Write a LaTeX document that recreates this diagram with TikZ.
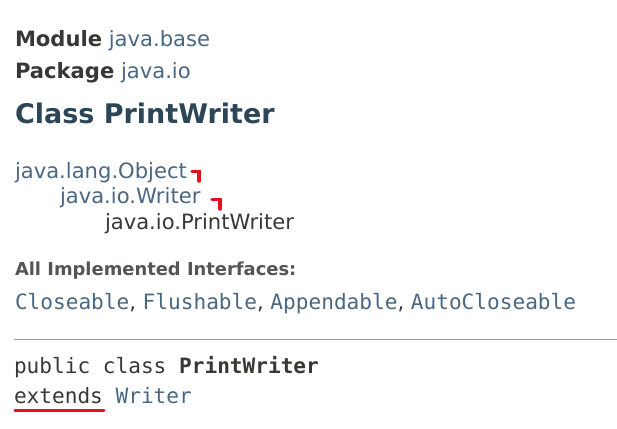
\documentclass[tikz,border=0pt]{standalone}
\usepackage{fontspec}
\setmainfont{DejaVu Sans}
\setmonofont{DejaVu Sans Mono}
\definecolor{txt}{HTML}{353833}
\definecolor{lnk}{HTML}{4A6782}
\definecolor{hdr}{HTML}{2C4557}
\definecolor{mark}{HTML}{E8101E}
\definecolor{rule}{HTML}{9A9A9A}
\tikzset{
  t/.style={anchor=base west, inner sep=0pt, outer sep=0pt, text=txt, font=\fontsize{21.1}{25}\selectfont},
  lk/.style={t, text=lnk},
  mono/.style={t, font=\fontsize{21.1}{25}\selectfont\ttfamily},
  redmark/.style={draw=mark, line width=3.5pt, line cap=round},
}
\begin{document}
\begin{tikzpicture}[x=1pt,y=-1pt]
\useasboundingbox (0,0) rectangle (617,428);
\node[t] (mod) at (15,47) {\textbf{Module} \textcolor{lnk}{java.base}};
\node[t] (pkg) at (15,78) {\textbf{Package} \textcolor{lnk}{java.io}};
\node[t, text=hdr, font=\fontsize{27}{32}\selectfont\bfseries] (cls) at (15,123.5) {Class PrintWriter};
\node[lk] (obj) at (15,178.5) {java.lang.Object};
\node[lk] (wr) at (60,203.5) {java.io.Writer};
\node[t] (pw) at (105,229) {java.io.PrintWriter};
\node[t, font=\fontsize{17.9}{22}\selectfont\bfseries, text=txt!85!white] (aii) at (15,275) {All Implemented Interfaces:};
\node[t] (ifs) at (15,309) {\textcolor{lnk}{\texttt{Closeable}}, \textcolor{lnk}{\texttt{Flushable}}, \textcolor{lnk}{\texttt{Appendable}}, \textcolor{lnk}{\texttt{AutoCloseable}}};
\coordinate (rl) at (14,339.5);
\coordinate (rr) at (617,339.5);
\draw[rule, line width=1.2pt] (rl) -- (rr);
\node[mono] (pub) at (14,373) {public class \textbf{PrintWriter}};
\node[mono] (ext) at (14,403) {extends \textcolor{lnk}{Writer}};
% red marks
\coordinate (m1a) at (192,171.5);
\coordinate (m1b) at (199,171.5);
\coordinate (m1c) at (199,181);
\draw[redmark] (m1a) -- (m1b) -- (m1c);
\coordinate (m2a) at (212,199.5);
\coordinate (m2b) at (220,199.5);
\coordinate (m2c) at (220,209);
\draw[redmark] (m2a) -- (m2b) -- (m2c);
\coordinate (u1) at (15,410);
\coordinate (u2) at (104,410);
\draw[redmark, line width=3pt] (u1) -- (u2);
\end{tikzpicture}
\end{document}
